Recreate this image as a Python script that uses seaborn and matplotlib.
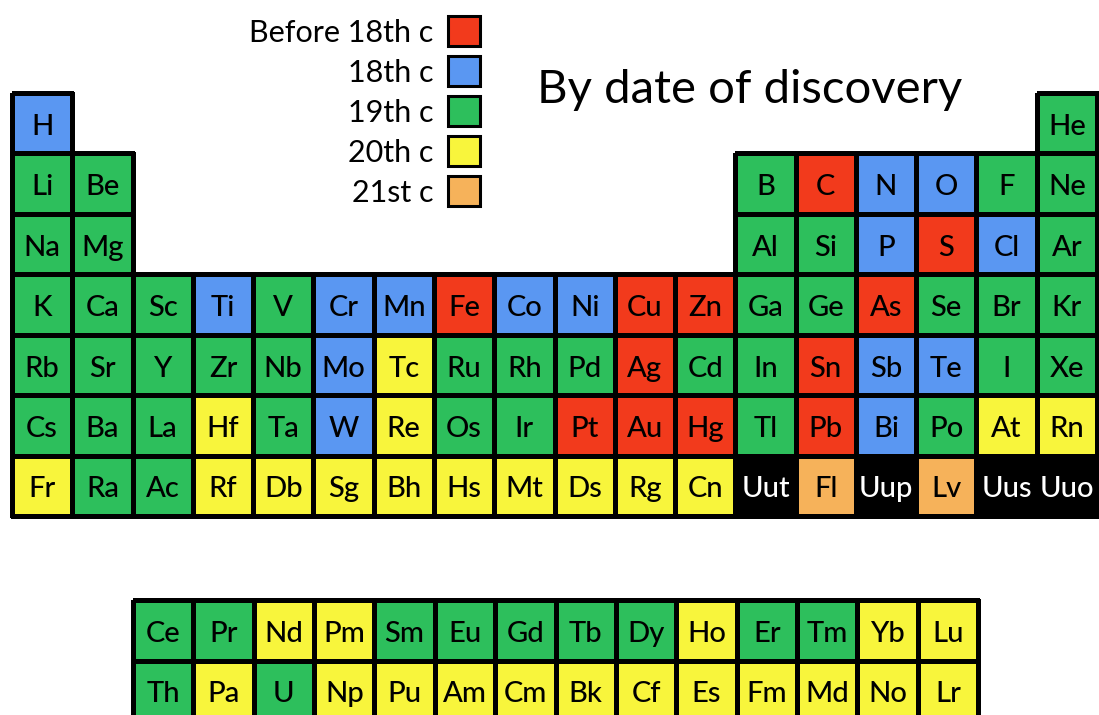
import numpy as np
import pandas as pd
import matplotlib.pyplot as plt
import seaborn as sns
from matplotlib.colors import ListedColormap
from matplotlib.patches import Rectangle

# 图例: 发现年代
era_labels = ['Before 18th c', '18th c', '19th c', '20th c', '21st c']
# 0 before 18th, 1 18th, 2 19th, 3 20th, 4 21st, 5 unconfirmed (black)
era_colors = ['#f23a1c', '#5a97f2', '#2dbf5c', '#f8f53c', '#f6b25a', '#000000']
unconfirmed = ['Uut', 'Uup', 'Uus', 'Uuo']

# 主表 7 个周期 x 18 个族, '' / None = 空位
main_symbols = [
    ['H'] + [''] * 16 + ['He'],
    ['Li', 'Be'] + [''] * 10 + ['B', 'C', 'N', 'O', 'F', 'Ne'],
    ['Na', 'Mg'] + [''] * 10 + ['Al', 'Si', 'P', 'S', 'Cl', 'Ar'],
    ['K', 'Ca', 'Sc', 'Ti', 'V', 'Cr', 'Mn', 'Fe', 'Co', 'Ni', 'Cu', 'Zn', 'Ga', 'Ge', 'As', 'Se', 'Br', 'Kr'],
    ['Rb', 'Sr', 'Y', 'Zr', 'Nb', 'Mo', 'Tc', 'Ru', 'Rh', 'Pd', 'Ag', 'Cd', 'In', 'Sn', 'Sb', 'Te', 'I', 'Xe'],
    ['Cs', 'Ba', 'La', 'Hf', 'Ta', 'W', 'Re', 'Os', 'Ir', 'Pt', 'Au', 'Hg', 'Tl', 'Pb', 'Bi', 'Po', 'At', 'Rn'],
    ['Fr', 'Ra', 'Ac', 'Rf', 'Db', 'Sg', 'Bh', 'Hs', 'Mt', 'Ds', 'Rg', 'Cn', 'Uut', 'Fl', 'Uup', 'Lv', 'Uus', 'Uuo'],
]
main_eras = [
    [1] + [None] * 16 + [2],
    [2, 2] + [None] * 10 + [2, 0, 1, 1, 2, 2],
    [2, 2] + [None] * 10 + [2, 2, 1, 0, 1, 2],
    [2, 2, 2, 1, 2, 1, 1, 0, 1, 1, 0, 0, 2, 2, 0, 2, 2, 2],
    [2, 2, 2, 2, 2, 1, 3, 2, 2, 2, 0, 2, 2, 0, 1, 1, 2, 2],
    [2, 2, 2, 3, 2, 1, 3, 2, 2, 0, 0, 0, 2, 0, 1, 2, 3, 3],
    [3, 2, 2, 3, 3, 3, 3, 3, 3, 3, 3, 3, 5, 4, 5, 4, 5, 5],
]

# 镧系 / 锕系
f_symbols = [
    ['Ce', 'Pr', 'Nd', 'Pm', 'Sm', 'Eu', 'Gd', 'Tb', 'Dy', 'Ho', 'Er', 'Tm', 'Yb', 'Lu'],
    ['Th', 'Pa', 'U', 'Np', 'Pu', 'Am', 'Cm', 'Bk', 'Cf', 'Es', 'Fm', 'Md', 'No', 'Lr'],
]
f_eras = [
    [2, 2, 3, 3, 2, 2, 2, 2, 2, 3, 2, 2, 3, 3],
    [2, 3, 2, 3, 3, 3, 3, 3, 3, 3, 3, 3, 3, 3],
]

plt.rcParams['font.family'] = ['Lato', 'DejaVu Sans']

W, H = 1099, 715
fig = plt.figure(figsize=(W / 100, H / 100), dpi=100)
cmap = ListedColormap(era_colors)


def px_rect(x0, y0, x1, y1):
    # 像素坐标 -> figure 坐标
    return [x0 / W, 1 - y1 / H, (x1 - x0) / W, (y1 - y0) / H]


def draw_block(ax, symbols, eras):
    vals = pd.DataFrame(eras, dtype=float)
    labels = np.array(symbols)
    sns.heatmap(vals, ax=ax, cmap=cmap, vmin=-0.5, vmax=5.5, cbar=False,
                annot=labels, fmt='', linewidths=2.4, linecolor='black',
                xticklabels=False, yticklabels=False,
                annot_kws={'fontsize': 21, 'fontweight': 'medium'})
    mesh = ax.collections[0]
    mesh.set_clip_on(False)
    # 空位不画边框
    valid = ~np.isnan(vals.values.ravel())
    mesh.set_edgecolor([(0, 0, 0, 1) if v else (0, 0, 0, 0) for v in valid])
    for t in ax.texts:
        t.set_color('white' if t.get_text() in unconfirmed else 'black')
        x, y = t.get_position()
        t.set_position((x, y + 0.06))  # 文字略靠下


ax_main = fig.add_axes(px_rect(12, 93, 1097, 516))
draw_block(ax_main, main_symbols, main_eras)

ax_f = fig.add_axes(px_rect(133, 600, 978, 721))
draw_block(ax_f, f_symbols, f_eras)

# 图例 (手动画, 文字右对齐)
for i, (lab, col) in enumerate(zip(era_labels, era_colors)):
    yc = 31 + 40 * i
    fig.text(433 / W, 1 - (yc + 2) / H, lab, ha='right', va='center', fontsize=22)
    fig.add_artist(Rectangle((448 / W, 1 - (yc + 15) / H), 32 / W, 30 / H,
                             transform=fig.transFigure, facecolor=col,
                             edgecolor='black', linewidth=2.2))

# 标题
fig.text(750 / W, 1 - 90 / H, 'By date of discovery', ha='center', va='center', fontsize=34)

plt.savefig('out.png', dpi=100)
